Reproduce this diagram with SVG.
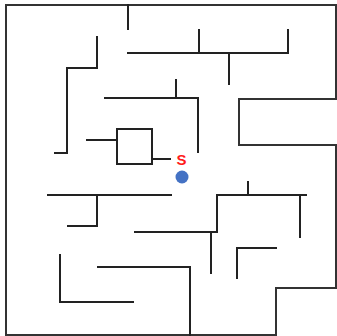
<svg xmlns="http://www.w3.org/2000/svg" width="337" height="336" viewBox="0 0 337 336">
<style>
.w{fill:none;stroke:#222;stroke-width:2;stroke-linecap:square;stroke-linejoin:miter}
.b{fill:none;stroke:#333;stroke-width:2;stroke-linecap:square}
</style>
<rect x="0" y="0" width="337" height="336" fill="#fff"/>
<g id="border">
<path class="b" d="M276,335 H6 V5 H336 V99 H239 V145 H336 V288 H276 V335"/>
</g>
<g id="walls">
<path class="w" d="M128,5 V29"/>
<path class="w" d="M97,37 V68 H67 V153 H55"/>
<path class="w" d="M128,53 H288 V30"/>
<path class="w" d="M199,30 V53"/>
<path class="w" d="M229,53 V84"/>
<path class="w" d="M105,98 H198 V152"/>
<path class="w" d="M176,80 V98"/>
<rect class="w" x="117" y="129" width="35" height="35"/>
<path class="w" d="M87,140 H117"/>
<path class="w" d="M152,159 H170"/>
<path class="w" d="M48,195 H171"/>
<path class="w" d="M97,195 V226 H68"/>
<path class="w" d="M135,232 H217 V195 H306"/>
<path class="w" d="M248,182 V195"/>
<path class="w" d="M300,195 V237"/>
<path class="w" d="M211,232 V273"/>
<path class="w" d="M237,278 V248 H276"/>
<path class="w" d="M98,267 H190 V335"/>
<path class="w" d="M60,255 V302 H133"/>
</g>
<g id="start">
<text x="181.5" y="164.5" font-family="Liberation Sans, Arial, sans-serif" font-size="15" font-weight="bold" fill="#ff1a1a" text-anchor="middle">S</text>
<circle cx="182" cy="177" r="6.5" fill="#4472c4"/>
</g>
</svg>
